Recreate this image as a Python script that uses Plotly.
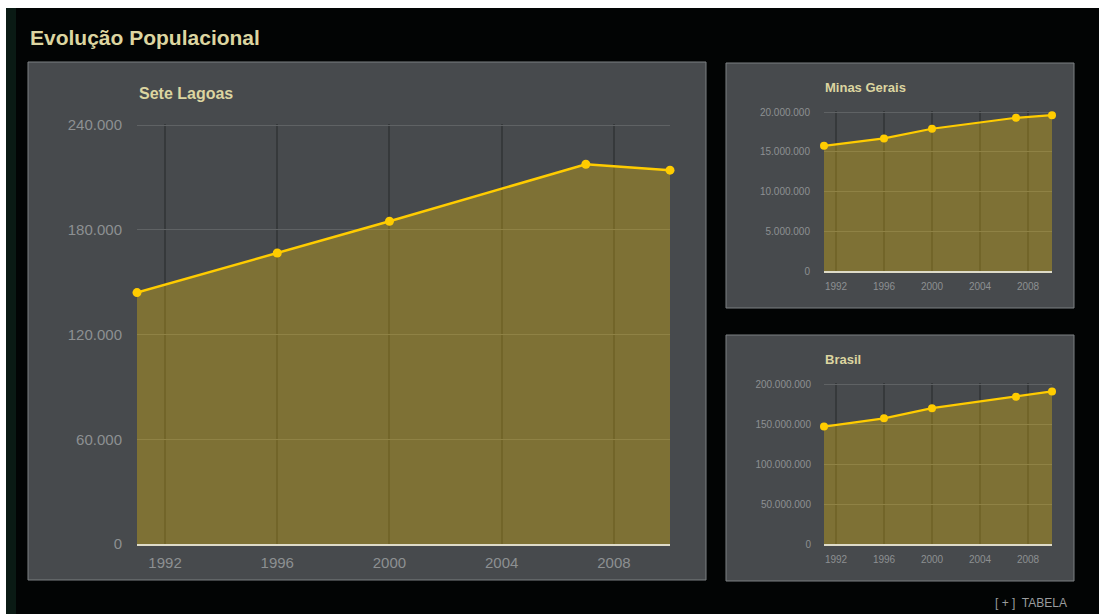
import plotly.graph_objects as go

# Population series (census / counts)
years = [1991, 1996, 2000, 2007, 2010]
sete_lagoas = [144014, 166700, 184871, 217506, 214152]
minas_gerais = [15743152, 16673097, 17891494, 19273506, 19597330]
brasil = [146825475, 157070163, 169799170, 183987291, 190755799]

year_ticks = [1992, 1996, 2000, 2004, 2008]
panel_titles = ["Sete Lagoas", "Minas Gerais", "Brasil"]
page_title = "Evolução Populacional"
footer_text = "[ + ]  TABELA"

W, H = 1099, 614


def px(x):
    return x / W


def py(y):
    return 1 - y / H


LINE = "#ffcc00"
FILL = "rgba(255,204,0,0.30)"
PANEL = "#474a4d"
BORDER = "#7d8083"
TICK = "#8d9092"
HGRID = "#5f6264"
VGRID = "#36393b"
TITLE = "#dcd5a0"
FONT = "Liberation Sans, Arial, sans-serif"

fig = go.Figure()

series = [
    (sete_lagoas, "x", "y", 2.5, 9),
    (minas_gerais, "x2", "y2", 2.2, 8),
    (brasil, "x3", "y3", 2.2, 8),
]
for vals, xa, ya, lw, ms in series:
    fig.add_trace(go.Scatter(
        x=years, y=vals, xaxis=xa, yaxis=ya,
        mode="lines+markers", fill="tozeroy", fillcolor=FILL,
        line=dict(color=LINE, width=lw),
        marker=dict(color=LINE, size=ms),
        cliponaxis=False, showlegend=False, hoverinfo="x+y",
    ))


def xaxis(domain, size, anchor, standoff):
    return dict(
        domain=domain, range=[1991, 2010], tickvals=year_ticks, anchor=anchor,
        showgrid=True, gridcolor=VGRID, gridwidth=1.5,
        zeroline=False, showline=True, linecolor="#dedbc8", linewidth=2,
        tickfont=dict(family=FONT, size=size, color=TICK),
        ticks="", ticklabelstandoff=standoff, automargin=False, fixedrange=True,
    )


def yaxis(bottom_px, top_px, top_val, dtick, size, standoff, anchor, pad_px=1.3):
    # extend the range slightly past the top tick so its gridline is kept
    pix_per_val = (bottom_px - top_px) / top_val
    pad_val = pad_px / pix_per_val
    return dict(
        domain=[py(bottom_px), py(top_px - pad_px)], range=[0, top_val + pad_val],
        tickvals=list(range(0, top_val + 1, dtick)), tickformat=",d", anchor=anchor,
        showgrid=True, gridcolor=HGRID, gridwidth=1,
        zeroline=False, showline=False,
        tickfont=dict(family=FONT, size=size, color=TICK),
        ticks="", ticklabelstandoff=standoff, automargin=False, fixedrange=True,
    )


shapes = [
    # page edges and dark background
    dict(type="rect", x0=0, x1=1, y0=py(8), y1=1, fillcolor="white", line_width=0),
    dict(type="rect", x0=0, x1=px(6), y0=0, y1=1, fillcolor="white", line_width=0),
    dict(type="rect", x0=px(6), x1=px(16), y0=0, y1=py(8), fillcolor="#0a1a14", line_width=0),
]
# panel boxes
for x0, y0, x1, y1 in [(28, 62, 706, 580), (726, 63, 1074, 308), (726, 335, 1074, 581)]:
    shapes.append(dict(
        type="rect", x0=px(x0), x1=px(x1), y0=py(y1), y1=py(y0),
        fillcolor=PANEL, line=dict(color=BORDER, width=1), layer="below",
    ))
for s in shapes:
    s.update(xref="paper", yref="paper")

annotations = [
    dict(text=f"<b>{page_title}</b>", x=px(28), y=py(37), xanchor="left", yanchor="middle",
         font=dict(family=FONT, size=21, color=TITLE)),
    dict(text=f"<b>{panel_titles[0]}</b>", x=px(137), y=py(93), xanchor="left", yanchor="middle",
         font=dict(family=FONT, size=16, color=TITLE)),
    dict(text=f"<b>{panel_titles[1]}</b>", x=px(823), y=py(87), xanchor="left", yanchor="middle",
         font=dict(family=FONT, size=13, color=TITLE)),
    dict(text=f"<b>{panel_titles[2]}</b>", x=px(823), y=py(359), xanchor="left", yanchor="middle",
         font=dict(family=FONT, size=13, color=TITLE)),
    dict(text=footer_text, x=px(1069), y=py(603), xanchor="right", yanchor="middle",
         font=dict(family=FONT, size=12, color="#9a9c9e")),
]
for a in annotations:
    a.update(xref="paper", yref="paper", showarrow=False)

fig.update_layout(
    template="none",
    width=W, height=H, autosize=False,
    margin=dict(l=0, r=0, t=0, b=0, pad=0),
    paper_bgcolor="#020404", plot_bgcolor="rgba(0,0,0,0)",
    separators=",.",
    xaxis=xaxis([px(137), px(670)], 15, "y", 4),
    yaxis=yaxis(544, 125, 240000, 60000, 15, 14, "x"),
    xaxis2=xaxis([px(824), px(1052)], 10, "y2", 5),
    yaxis2=yaxis(271, 112, 20000000, 5000000, 10, 13, "x2"),
    xaxis3=xaxis([px(824), px(1052)], 10, "y3", 5),
    yaxis3=yaxis(544, 384, 200000000, 50000000, 10, 12, "x3"),
    shapes=shapes, annotations=annotations,
)

fig.write_html("out.html", config=dict(displayModeBar=False))
